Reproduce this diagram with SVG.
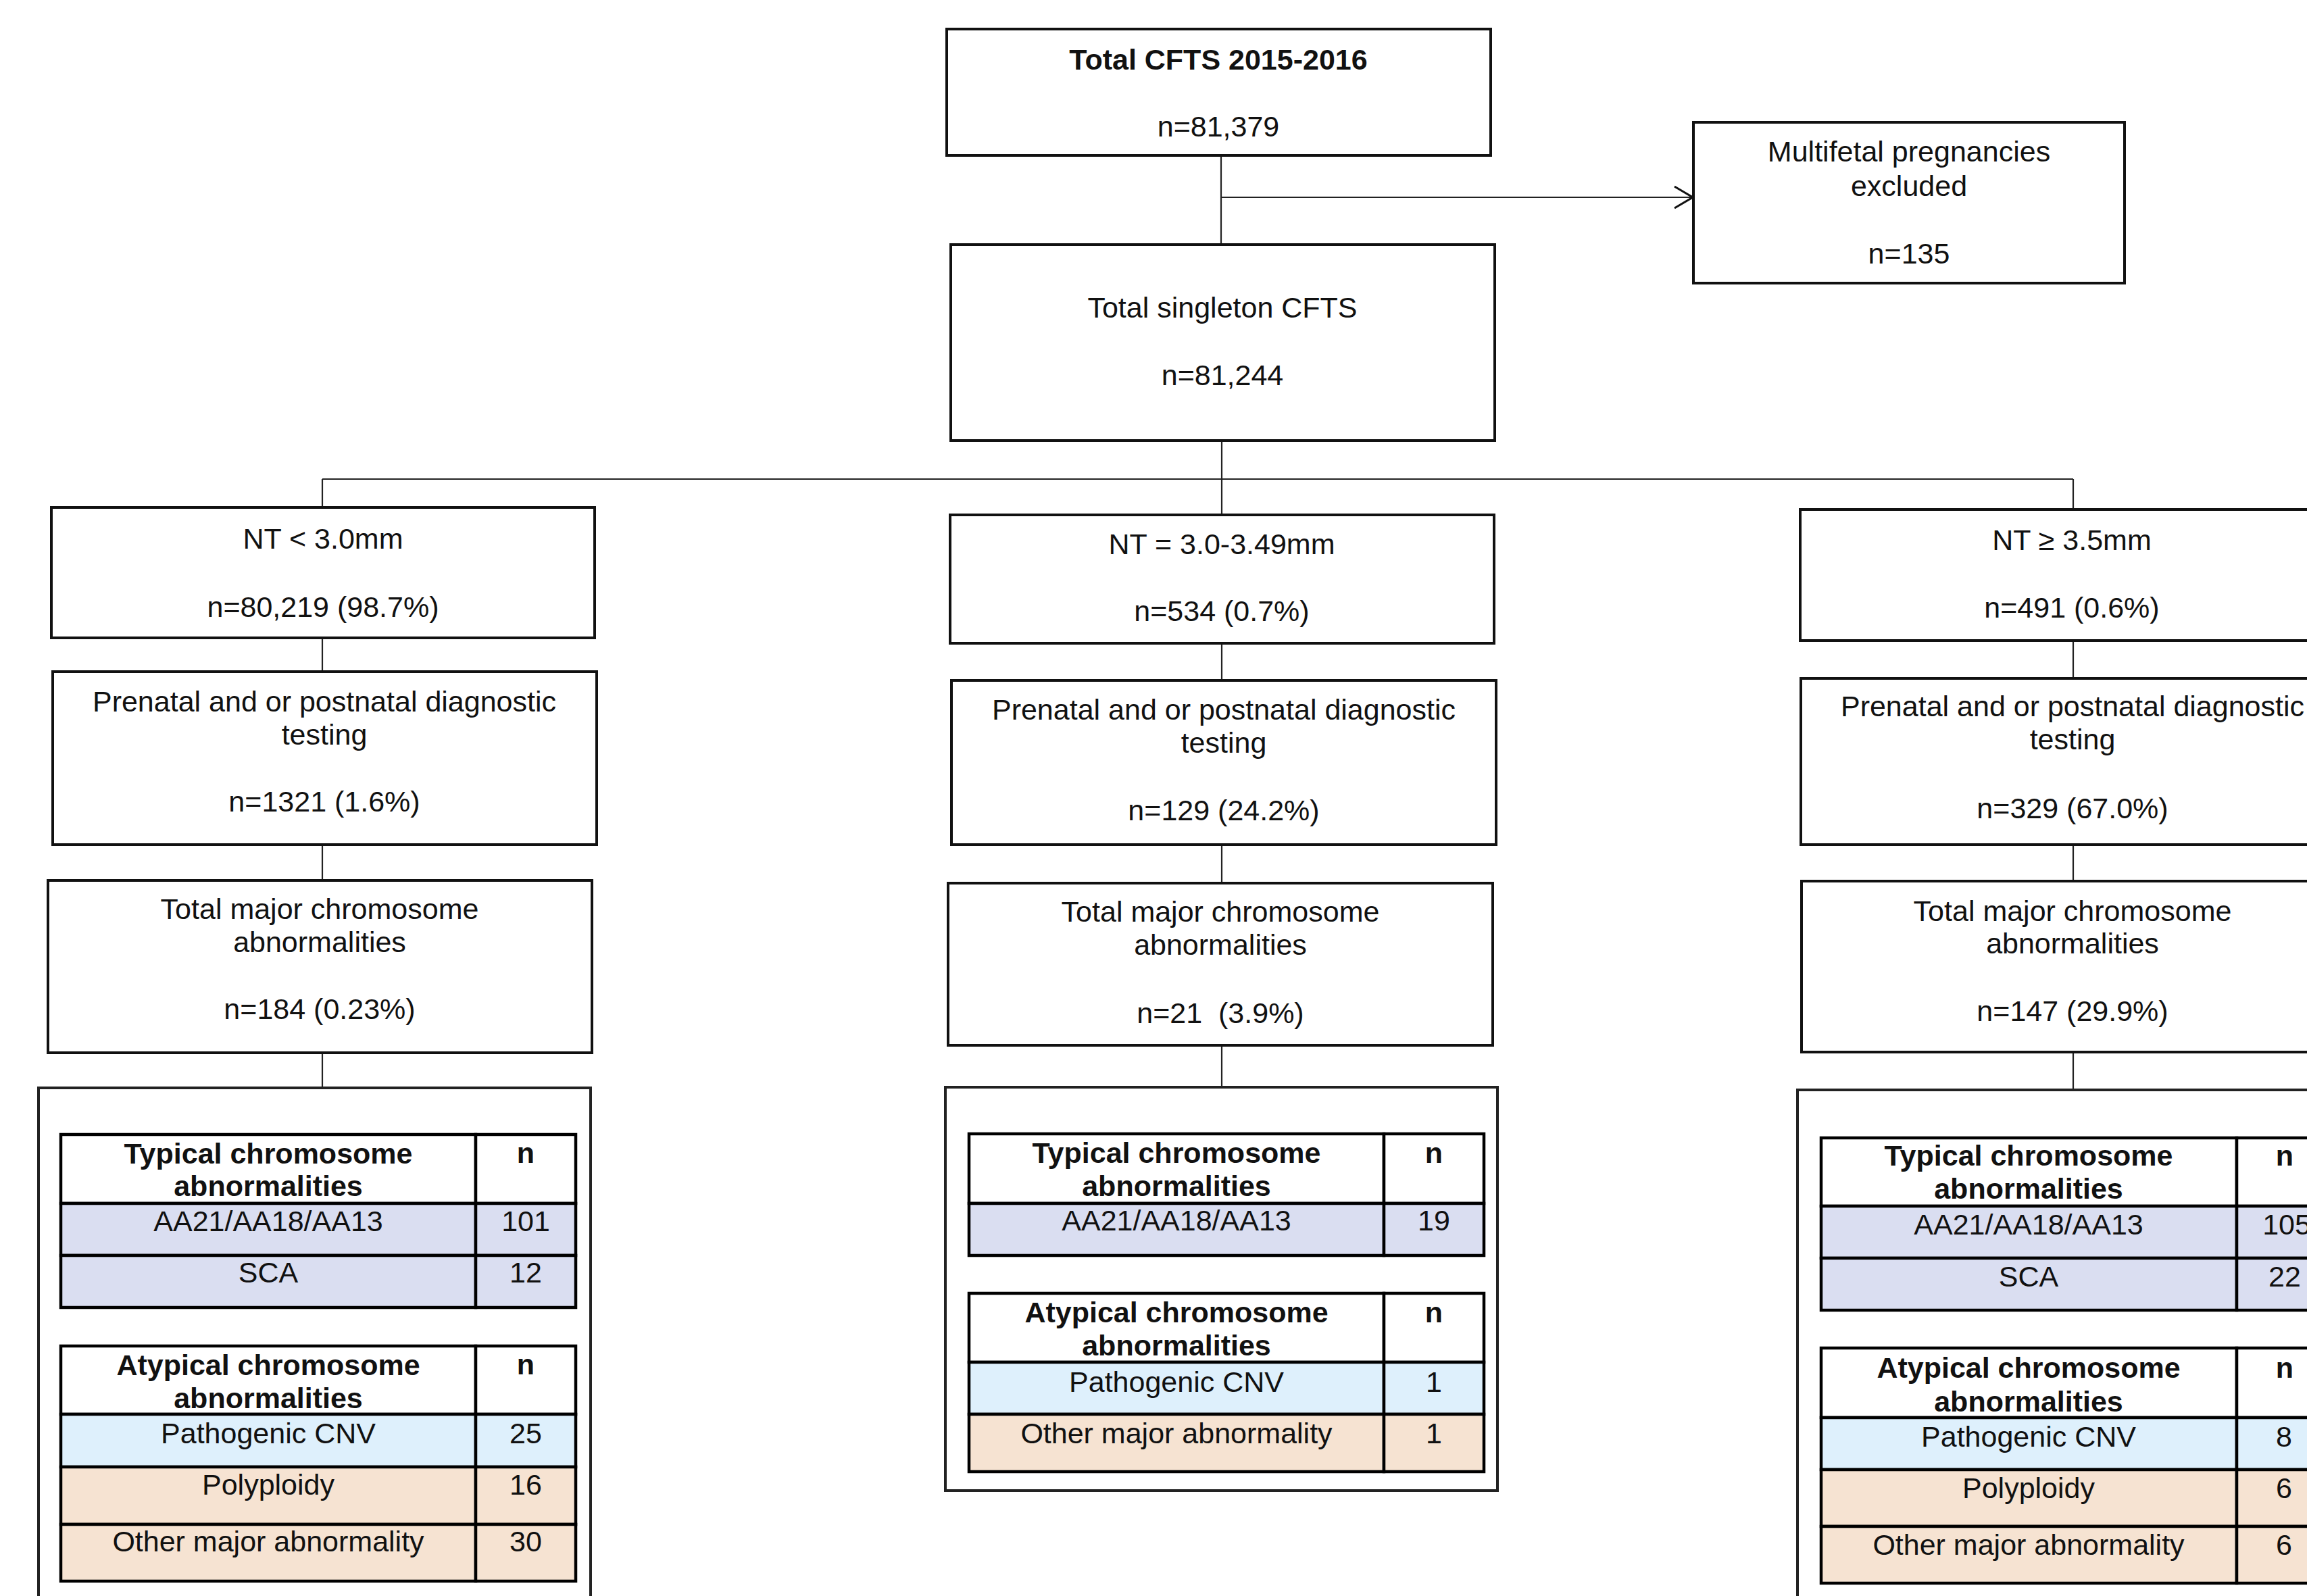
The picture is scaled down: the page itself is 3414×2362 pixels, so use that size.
<svg xmlns="http://www.w3.org/2000/svg" width="3414" height="2362" viewBox="0 0 3414 2362">
  <style>
    text { font-family: "Liberation Sans", Arial, sans-serif; fill: #111; text-anchor: middle; }
    .t { font-size: 43px; }
    .b { font-size: 43px; font-weight: bold; }
    .box { fill: #fff; stroke: #111; stroke-width: 4; }
    .frame { fill: #fff; stroke: #222; stroke-width: 4; }
    .cell { stroke: #000; stroke-width: 4.5; }
    .hdr { fill: #fff; }
    .typ { fill: #dadef1; }
    .cnv { fill: #def0fc; }
    .oth { fill: #f6e3d2; }
    .link { fill: none; stroke: #222; stroke-width: 2.2; }
  </style>
  <defs>
    <marker id="chevron" viewBox="0 0 30 36" refX="29" refY="18" markerWidth="30" markerHeight="36" markerUnits="userSpaceOnUse" orient="auto">
      <path d="M2,2 L29,18 L2,34" fill="none" stroke="#111" stroke-width="3"/>
    </marker>
  </defs>

  <rect width="3414" height="2362" fill="#fff"/>

  <!-- connectors -->
  <g id="connectors">
    <line class="link" x1="1807" y1="229" x2="1807" y2="361"/>
    <line class="link" x1="1807" y1="292" x2="2505" y2="292" stroke-width="3" marker-end="url(#chevron)"/>
    <line class="link" x1="1808" y1="651" x2="1808" y2="709"/>
    <line class="link" x1="477" y1="709" x2="3068" y2="709"/>
    <!-- left branch -->
    <line class="link" x1="477" y1="709" x2="477" y2="751"/>
    <line class="link" x1="477" y1="944" x2="477" y2="993"/>
    <line class="link" x1="477" y1="1250" x2="477" y2="1302"/>
    <line class="link" x1="477" y1="1558" x2="477" y2="1610"/>
    <!-- middle branch -->
    <line class="link" x1="1808" y1="709" x2="1808" y2="762"/>
    <line class="link" x1="1808" y1="952" x2="1808" y2="1007"/>
    <line class="link" x1="1808" y1="1250" x2="1808" y2="1307"/>
    <line class="link" x1="1808" y1="1547" x2="1808" y2="1609"/>
    <!-- right branch -->
    <line class="link" x1="3068" y1="709" x2="3068" y2="754"/>
    <line class="link" x1="3068" y1="947" x2="3068" y2="1004"/>
    <line class="link" x1="3068" y1="1250" x2="3068" y2="1304"/>
    <line class="link" x1="3068" y1="1557" x2="3068" y2="1613"/>
  </g>

  <!-- top of the flow -->
  <g id="total-cfts">
    <rect class="box" x="1401" y="43" width="805" height="187"/>
    <text class="b" x="1803" y="103">Total CFTS 2015-2016</text>
    <text class="t" x="1803" y="202">n=81,379</text>
  </g>
  <g id="multifetal-excluded">
    <rect class="box" x="2506" y="181" width="638" height="238"/>
    <text class="t" x="2825" y="239">Multifetal pregnancies</text>
    <text class="t" x="2825" y="290">excluded</text>
    <text class="t" x="2825" y="390">n=135</text>
  </g>
  <g id="singleton-cfts">
    <rect class="box" x="1407" y="362" width="805" height="290"/>
    <text class="t" x="1809" y="470">Total singleton CFTS</text>
    <text class="t" x="1809" y="570">n=81,244</text>
  </g>

  <!-- NT < 3.0mm column -->
  <g id="nt-low">
    <rect class="box" x="76" y="751" width="804" height="193"/>
    <text class="t" x="478" y="812">NT &lt; 3.0mm</text>
    <text class="t" x="478" y="913">n=80,219 (98.7%)</text>
  </g>
  <g id="nt-low-testing">
    <rect class="box" x="78" y="994" width="805" height="256"/>
    <text class="t" x="480" y="1053">Prenatal and or postnatal diagnostic</text>
    <text class="t" x="480" y="1102">testing</text>
    <text class="t" x="480" y="1201">n=1321 (1.6%)</text>
  </g>
  <g id="nt-low-major">
    <rect class="box" x="71" y="1303" width="805" height="255"/>
    <text class="t" x="473" y="1360">Total major chromosome</text>
    <text class="t" x="473" y="1409">abnormalities</text>
    <text class="t" x="473" y="1508">n=184 (0.23%)</text>
  </g>
  <g id="nt-low-breakdown">
    <rect class="frame" x="57" y="1610" width="817" height="800"/>
    <rect class="cell hdr" x="90" y="1679" width="614" height="102"/>
    <rect class="cell hdr" x="704" y="1679" width="148" height="102"/>
    <rect class="cell typ" x="90" y="1781" width="614" height="77"/>
    <rect class="cell typ" x="704" y="1781" width="148" height="77"/>
    <rect class="cell typ" x="90" y="1858" width="614" height="77"/>
    <rect class="cell typ" x="704" y="1858" width="148" height="77"/>
    <text class="b" x="397" y="1722">Typical chromosome</text>
    <text class="b" x="397" y="1770">abnormalities</text>
    <text class="b" x="778" y="1721">n</text>
    <text class="t" x="397" y="1822">AA21/AA18/AA13</text>
    <text class="t" x="778" y="1822">101</text>
    <text class="t" x="397" y="1898">SCA</text>
    <text class="t" x="778" y="1898">12</text>

    <rect class="cell hdr" x="90" y="1992" width="614" height="101"/>
    <rect class="cell hdr" x="704" y="1992" width="148" height="101"/>
    <rect class="cell cnv" x="90" y="2093" width="614" height="78"/>
    <rect class="cell cnv" x="704" y="2093" width="148" height="78"/>
    <rect class="cell oth" x="90" y="2171" width="614" height="85"/>
    <rect class="cell oth" x="704" y="2171" width="148" height="85"/>
    <rect class="cell oth" x="90" y="2256" width="614" height="84"/>
    <rect class="cell oth" x="704" y="2256" width="148" height="84"/>
    <text class="b" x="397" y="2035">Atypical chromosome</text>
    <text class="b" x="397" y="2084">abnormalities</text>
    <text class="b" x="778" y="2034">n</text>
    <text class="t" x="397" y="2136">Pathogenic CNV</text>
    <text class="t" x="778" y="2136">25</text>
    <text class="t" x="397" y="2212">Polyploidy</text>
    <text class="t" x="778" y="2212">16</text>
    <text class="t" x="397" y="2296">Other major abnormality</text>
    <text class="t" x="778" y="2296">30</text>
  </g>

  <!-- NT = 3.0-3.49mm column -->
  <g id="nt-mid">
    <rect class="box" x="1406" y="762" width="805" height="190"/>
    <text class="t" x="1808" y="820">NT = 3.0-3.49mm</text>
    <text class="t" x="1808" y="919">n=534 (0.7%)</text>
  </g>
  <g id="nt-mid-testing">
    <rect class="box" x="1408" y="1007" width="806" height="243"/>
    <text class="t" x="1811" y="1065">Prenatal and or postnatal diagnostic</text>
    <text class="t" x="1811" y="1114">testing</text>
    <text class="t" x="1811" y="1214">n=129 (24.2%)</text>
  </g>
  <g id="nt-mid-major">
    <rect class="box" x="1403" y="1307" width="806" height="240"/>
    <text class="t" x="1806" y="1364">Total major chromosome</text>
    <text class="t" x="1806" y="1413">abnormalities</text>
    <text class="t" x="1806" y="1514" xml:space="preserve">n=21  (3.9%)</text>
  </g>
  <g id="nt-mid-breakdown">
    <rect class="frame" x="1399" y="1609" width="817" height="597"/>
    <rect class="cell hdr" x="1434" y="1678" width="614" height="103"/>
    <rect class="cell hdr" x="2048" y="1678" width="148" height="103"/>
    <rect class="cell typ" x="1434" y="1781" width="614" height="77"/>
    <rect class="cell typ" x="2048" y="1781" width="148" height="77"/>
    <text class="b" x="1741" y="1721">Typical chromosome</text>
    <text class="b" x="1741" y="1770">abnormalities</text>
    <text class="b" x="2122" y="1721">n</text>
    <text class="t" x="1741" y="1821">AA21/AA18/AA13</text>
    <text class="t" x="2122" y="1821">19</text>

    <rect class="cell hdr" x="1434" y="1914" width="614" height="102"/>
    <rect class="cell hdr" x="2048" y="1914" width="148" height="102"/>
    <rect class="cell cnv" x="1434" y="2016" width="614" height="77"/>
    <rect class="cell cnv" x="2048" y="2016" width="148" height="77"/>
    <rect class="cell oth" x="1434" y="2093" width="614" height="85"/>
    <rect class="cell oth" x="2048" y="2093" width="148" height="85"/>
    <text class="b" x="1741" y="1957">Atypical chromosome</text>
    <text class="b" x="1741" y="2006">abnormalities</text>
    <text class="b" x="2122" y="1957">n</text>
    <text class="t" x="1741" y="2060">Pathogenic CNV</text>
    <text class="t" x="2122" y="2060">1</text>
    <text class="t" x="1741" y="2136">Other major abnormality</text>
    <text class="t" x="2122" y="2136">1</text>
  </g>

  <!-- NT >= 3.5mm column (runs past the right edge) -->
  <g id="nt-high">
    <rect class="box" x="2664" y="754" width="806" height="194"/>
    <text class="t" x="3066" y="814">NT ≥ 3.5mm</text>
    <text class="t" x="3066" y="914">n=491 (0.6%)</text>
  </g>
  <g id="nt-high-testing">
    <rect class="box" x="2665" y="1004" width="806" height="246"/>
    <text class="t" x="3067" y="1060">Prenatal and or postnatal diagnostic</text>
    <text class="t" x="3067" y="1109">testing</text>
    <text class="t" x="3067" y="1211">n=329 (67.0%)</text>
  </g>
  <g id="nt-high-major">
    <rect class="box" x="2666" y="1304" width="806" height="253"/>
    <text class="t" x="3067" y="1363">Total major chromosome</text>
    <text class="t" x="3067" y="1411">abnormalities</text>
    <text class="t" x="3067" y="1511">n=147 (29.9%)</text>
  </g>
  <g id="nt-high-breakdown">
    <rect class="frame" x="2660" y="1613" width="817" height="800"/>
    <rect class="cell hdr" x="2695" y="1684" width="615" height="101"/>
    <rect class="cell hdr" x="3310" y="1684" width="148" height="101"/>
    <rect class="cell typ" x="2695" y="1785" width="615" height="77"/>
    <rect class="cell typ" x="3310" y="1785" width="148" height="77"/>
    <rect class="cell typ" x="2695" y="1862" width="615" height="77"/>
    <rect class="cell typ" x="3310" y="1862" width="148" height="77"/>
    <text class="b" x="3002" y="1725">Typical chromosome</text>
    <text class="b" x="3002" y="1774">abnormalities</text>
    <text class="b" x="3381" y="1725">n</text>
    <text class="t" x="3002" y="1827">AA21/AA18/AA13</text>
    <text class="t" x="3384" y="1827">105</text>
    <text class="t" x="3002" y="1904">SCA</text>
    <text class="t" x="3381" y="1904">22</text>

    <rect class="cell hdr" x="2695" y="1995" width="615" height="103"/>
    <rect class="cell hdr" x="3310" y="1995" width="148" height="103"/>
    <rect class="cell cnv" x="2695" y="2098" width="615" height="77"/>
    <rect class="cell cnv" x="3310" y="2098" width="148" height="77"/>
    <rect class="cell oth" x="2695" y="2175" width="615" height="84"/>
    <rect class="cell oth" x="3310" y="2175" width="148" height="84"/>
    <rect class="cell oth" x="2695" y="2259" width="615" height="84"/>
    <rect class="cell oth" x="3310" y="2259" width="148" height="84"/>
    <text class="b" x="3002" y="2039">Atypical chromosome</text>
    <text class="b" x="3002" y="2089">abnormalities</text>
    <text class="b" x="3381" y="2039">n</text>
    <text class="t" x="3002" y="2141">Pathogenic CNV</text>
    <text class="t" x="3380" y="2141">8</text>
    <text class="t" x="3002" y="2217">Polyploidy</text>
    <text class="t" x="3380" y="2217">6</text>
    <text class="t" x="3002" y="2301">Other major abnormality</text>
    <text class="t" x="3380" y="2301">6</text>
  </g>
</svg>
